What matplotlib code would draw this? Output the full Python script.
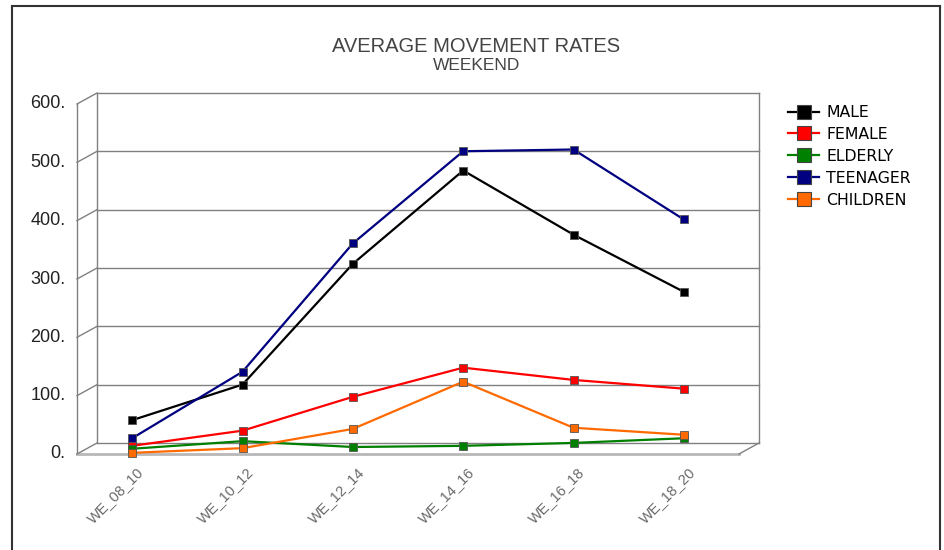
import matplotlib
matplotlib.use("Agg")
import matplotlib.pyplot as plt
from matplotlib.lines import Line2D
from matplotlib.transforms import ScaledTranslation

categories = ["WE_08_10", "WE_10_12", "WE_12_14", "WE_14_16", "WE_16_18", "WE_18_20"]
male = [58, 119, 326, 486, 376, 278]
female = [14, 40, 98, 148, 127, 112]
elderly = [9, 22, 12, 14, 19, 27]
teenager = [27, 141, 361, 519, 522, 402]
children = [2, 10, 43, 124, 45, 33]
series_names = ["MALE", "FEMALE", "ELDERLY", "TEENAGER", "CHILDREN"]
series_values = [male, female, elderly, teenager, children]
series_colors = ["#000000", "#ff0000", "#008000", "#000080", "#ff6a00"]
yticks = [0, 100, 200, 300, 400, 500, 600]
ytick_labels = ["0.", "100.", "200.", "300.", "400.", "500.", "600."]
title = "AVERAGE MOVEMENT RATES"
subtitle = "WEEKEND"

W, H, DPI = 945, 550, 100
fig = plt.figure(figsize=(W / DPI, H / DPI), dpi=DPI)

# front plane of the pseudo-3D box, in pixels
fl, fr, fb, ft = 77, 739, 454, 104
ax = fig.add_axes([fl / W, 1 - fb / H, (fr - fl) / W, (fb - ft) / H])
ax.set_xlim(-0.5, len(categories) - 0.5)
ax.set_ylim(0, 600)
ax.axis("off")

dx, dy = 20, 11
back = ax.transData + ScaledTranslation(dx / DPI, dy / DPI, fig.dpi_scale_trans)
x0, x1 = -0.5, len(categories) - 0.5
gc = "#808080"

# back wall gridlines + frame
for v in yticks:
    ax.plot([x0, x1], [v, v], color=gc, lw=1.0, transform=back, clip_on=False, zorder=1)
    p1 = ax.transData.transform((x0, v))
    p2 = back.transform((x0, v))
    fig.add_artist(Line2D([p1[0] / W, p2[0] / W], [p1[1] / H, p2[1] / H], color=gc, lw=1.0,
                          transform=fig.transFigure))
ax.plot([x0, x0], [0, 600], color=gc, lw=1.0, transform=back, clip_on=False, zorder=1)
ax.plot([x1, x1], [0, 600], color=gc, lw=1.0, transform=back, clip_on=False, zorder=1)
ax.plot([x0, x0], [0, 600], color=gc, lw=1.0, clip_on=False, zorder=1)
ax.plot([x0, x1], [0, 0], color="#b8b8b8", lw=2.0, clip_on=False, zorder=1)
p1 = ax.transData.transform((x1, 0))
p2 = back.transform((x1, 0))
fig.add_artist(Line2D([p1[0] / W, p2[0] / W], [p1[1] / H, p2[1] / H], color=gc, lw=1.0,
                      transform=fig.transFigure))

# y tick labels
for v, lab in zip(yticks, ytick_labels):
    ax.text(-0.605, v, lab, ha="right", va="center", fontsize=13, color="#222222",
            family="Liberation Sans", transform=ax.transData, clip_on=False)

# x tick labels
xs = list(range(len(categories)))
for i, lab in enumerate(categories):
    ax.annotate(lab, xy=(i, 0), xytext=(4, -11), textcoords="offset pixels",
                ha="right", va="top", rotation=45, rotation_mode="anchor",
                fontsize=10.5, color="#6a6a6a", family="Liberation Sans",
                annotation_clip=False)

# series
handles = []
for name, vals, col in zip(series_names, series_values, series_colors):
    ax.plot(xs, vals, color=col, lw=1.6, marker="s", markersize=6,
            markerfacecolor=col, markeredgecolor="#555555", markeredgewidth=0.6,
            clip_on=False, zorder=3)
    handles.append(Line2D([], [], color=col, lw=1.6, marker="s", markersize=10,
                          markerfacecolor=col, markeredgecolor="#444444", markeredgewidth=0.8))

fig.legend(handles, series_names, loc="upper left",
           bbox_to_anchor=(788 / W, 1 - 105 / H), frameon=False,
           prop={"family": "DejaVu Sans", "size": 11.3},
           handlelength=2.0, handletextpad=0.45, labelspacing=0.44,
           borderaxespad=0, borderpad=0)

fig.text(476 / W, 1 - 46 / H, title, ha="center", va="center", fontsize=14.5, color="#444444",
         family="Liberation Sans")
fig.text(477 / W, 1 - 66 / H, subtitle, ha="center", va="center", fontsize=12.5, color="#444444",
         family="Liberation Sans")

# outer border (left, top, right)
bc = "#333333"
fig.add_artist(Line2D([12 / W, 12 / W], [0, 1 - 6 / H], color=bc, lw=1.5, transform=fig.transFigure))
fig.add_artist(Line2D([12 / W, 940 / W], [1 - 6 / H, 1 - 6 / H], color=bc, lw=1.5, transform=fig.transFigure))
fig.add_artist(Line2D([940 / W, 940 / W], [0, 1 - 6 / H], color=bc, lw=1.5, transform=fig.transFigure))

fig.savefig("out.png", dpi=DPI)
